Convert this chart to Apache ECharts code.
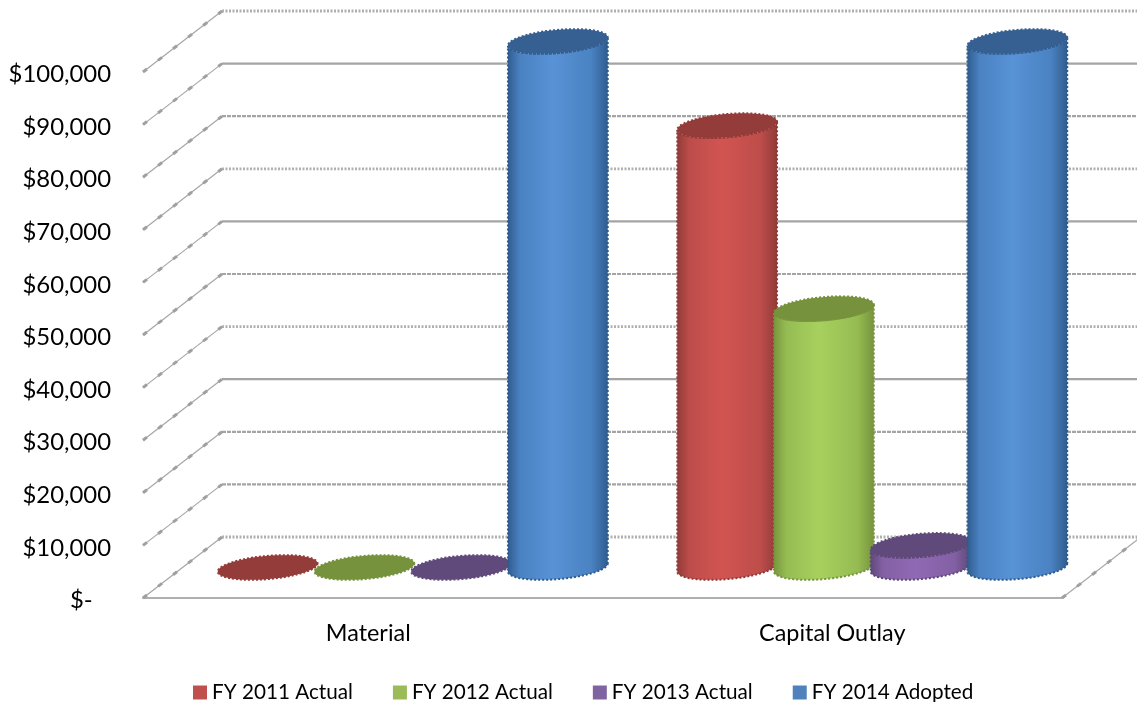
<!DOCTYPE html>
<html>
<head>
<meta charset="utf-8">
<style>html,body{margin:0;padding:0;background:#fff}#chart{width:1137px;height:702px}</style>
<script src="https://cdn.jsdelivr.net/npm/echarts@6/dist/echarts.min.js"></script>
</head>
<body>
<div id="chart"></div>
<script>
// Budget comparison drawn as 3D-style cylinders on a projected wall and floor.
var categories = ['Material', 'Capital Outlay'];
var seriesNames = ['FY 2011 Actual', 'FY 2012 Actual', 'FY 2013 Actual', 'FY 2014 Adopted'];
var fy2011 = [0, 84000];
var fy2012 = [0, 49200];
var fy2013 = [0, 4200];
var fy2014 = [100000, 100000];
var axisTicks = [0, 10000, 20000, 30000, 40000, 50000, 60000, 70000, 80000, 90000, 100000];
var solidWallLevels = [30000, 60000, 90000];
var semiWallLevels = [10000, 20000, 50000, 80000];

// Flat swatch and shaded body colours per series: edge, shoulder, centre, top cap.
var swatch = ['#c0504d', '#9bbb59', '#8064a2', '#4f81bd'];
var edge = ['#8e3a38', '#76923c', '#5d4777', '#2f5a8c'];
var shoulder = ['#bd4d4a', '#95bc52', '#8360a4', '#4a82c2'];
var centre = ['#d25451', '#a8d05e', '#9069b4', '#5893d6'];
var cap = ['#943c3a', '#76923c', '#604a7b', '#366092'];

// Oblique projection: offset from the front plane to the back wall.
var DEPTH_X = 79, DEPTH_Y = -61;
var TILT = 0.087, RY = 11.6;

function ellipsePoints(cx, cy, rx, from, to) {
  var pts = [];
  var cos = Math.cos(TILT), sin = Math.sin(TILT);
  for (var i = 0; i <= 60; i++) {
    var t = from + (to - from) * i / 60;
    var ex = rx * Math.cos(t), ey = RY * Math.sin(t);
    pts.push([cx + ex * cos + ey * sin, cy - ex * sin + ey * cos]);
  }
  return pts;
}

function cylinderRenderer(index) {
  return function (params, api) {
    var pos = api.coord([api.value(0), api.value(1)]);
    var base = api.coord([api.value(0), 0]);
    var band = api.size([1, 0])[0];
    var rx = band * 0.109;
    var cx = pos[0] + (index - 1.5) * band * 0.2105 + DEPTH_X / 2 + 0.5;
    var topY = pos[1] + DEPTH_Y / 2;
    var baseY = base[1] + DEPTH_Y / 2;
    var children = [];
    if (topY < baseY) {
      var lower = ellipsePoints(cx, baseY, rx, 0, Math.PI);
      var upper = ellipsePoints(cx, topY, rx, Math.PI, 0);
      children.push({
        type: 'polygon',
        shape: { points: lower.concat(upper) },
        style: {
          fill: new echarts.graphic.LinearGradient(0, 0, 1, 0, [
            { offset: 0, color: edge[index] },
            { offset: 0.13, color: shoulder[index] },
            { offset: 0.45, color: centre[index] },
            { offset: 0.83, color: shoulder[index] },
            { offset: 1, color: edge[index] }
          ]),
          stroke: edge[index],
          lineWidth: 2,
          lineDash: [2, 2]
        }
      });
    }
    children.push({
      type: 'polygon',
      shape: { points: ellipsePoints(cx, topY, rx, 0, Math.PI * 2) },
      style: { fill: cap[index], stroke: cap[index], lineWidth: 2, lineDash: [2, 2] }
    });
    return { type: 'group', children: children };
  };
}

// A diagonal wall-to-floor edge: a thin line with heavier flecks along it.
function diagonal(x, y) {
  var shape = { x1: x, y1: y, x2: x + DEPTH_X, y2: y + DEPTH_Y };
  return [
    { type: 'line', shape: shape, style: { stroke: '#a6a6a6', lineWidth: 1.2 } },
    { type: 'line', shape: shape, style: { stroke: '#a0a0a0', lineWidth: 3, lineDash: [5, 14] } }
  ];
}

function wallRenderer(params, api) {
  var v = api.value(0);
  var sys = params.coordSys;
  var y = api.coord([0, v])[1];
  var left = sys.x, right = sys.x + sys.width;
  var isSolid = solidWallLevels.indexOf(v) >= 0;
  var isSemi = semiWallLevels.indexOf(v) >= 0;
  var children = [{
    type: 'line',
    shape: { x1: left + DEPTH_X, y1: y + DEPTH_Y, x2: right + DEPTH_X, y2: y + DEPTH_Y },
    style: {
      stroke: isSolid || isSemi ? '#a4a4a4' : '#b0b0b0',
      lineWidth: isSolid || isSemi ? 2.2 : 2.8,
      lineDash: isSolid ? null : isSemi ? [4, 1] : [2, 1.5]
    }
  }].concat(diagonal(left, y));
  if (v === 0) {
    children = children.concat(diagonal(right, y));
  }
  return { type: 'group', children: children };
}

var valueSets = [fy2011, fy2012, fy2013, fy2014];
var chart = echarts.init(document.getElementById('chart'), null, { renderer: 'canvas' });
var FONT = 'Lato, "Open Sans", sans-serif';

chart.setOption({
  animation: false,
  backgroundColor: '#ffffff',
  grid: { left: 143, right: 75, top: 72, bottom: 104 },
  legend: {
    data: seriesNames,
    left: 193,
    top: 682,
    padding: 0,
    icon: 'rect',
    itemWidth: 14,
    itemHeight: 14,
    itemGap: 40,
    textStyle: { fontFamily: FONT, fontSize: 20.7, color: '#000' }
  },
  xAxis: {
    type: 'category',
    data: categories,
    axisLine: { show: true, lineStyle: { color: '#b0b0b0', width: 2 } },
    axisTick: { show: false },
    splitLine: { show: false },
    axisLabel: {
      margin: 24,
      fontFamily: FONT,
      fontSize: 23.4,
      color: '#000',
      formatter: function (v, i) { return i === 0 ? '{first|' + v + '}' : v; },
      rich: { first: { fontFamily: FONT, fontSize: 23.4, color: '#000', padding: [0, 9, 0, 0] } }
    }
  },
  yAxis: {
    type: 'value',
    min: 0,
    max: 100000,
    interval: 10000,
    axisLine: { show: false },
    axisTick: { show: false },
    splitLine: { show: false },
    axisLabel: {
      margin: 32,
      fontFamily: FONT,
      fontSize: 23.9,
      color: '#000',
      formatter: function (v) {
        return '{money|' + (v === 0 ? '$-   ' : '$' + v.toLocaleString('en-US')) + '}';
      },
      rich: { money: { fontFamily: FONT, fontSize: 23.9, color: '#000', padding: [5, 0, 0, 0] } }
    }
  },
  series: [{
    type: 'custom',
    name: 'wall',
    silent: true,
    clip: false,
    data: axisTicks.map(function (t) { return [t]; }),
    encode: { x: -1, y: 0 },
    renderItem: wallRenderer,
    z: 1
  }].concat(seriesNames.map(function (name, i) {
    return {
      type: 'custom',
      name: name,
      clip: false,
      itemStyle: { color: swatch[i] },
      data: categories.map(function (c, k) { return [k, valueSets[i][k]]; }),
      encode: { x: 0, y: 1 },
      renderItem: cylinderRenderer(i),
      z: 2 + i
    };
  }))
});
</script>
</body>
</html>
